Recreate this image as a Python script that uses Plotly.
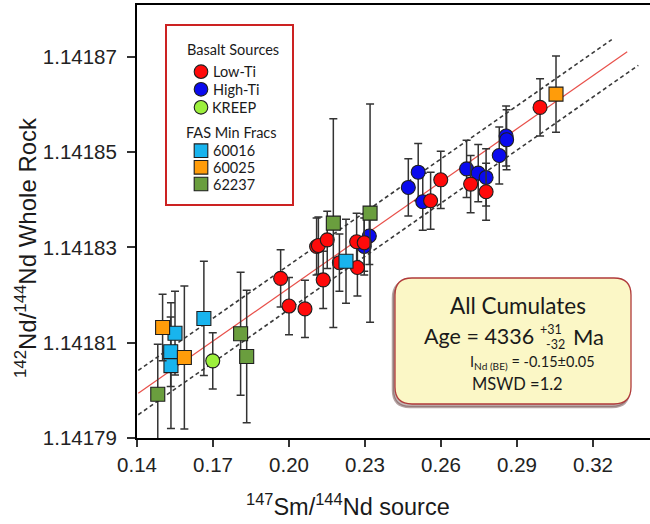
import plotly.graph_objects as go

# ---------------- data ----------------
lowti_x = [0.1967, 0.2000, 0.2063, 0.2109, 0.2116, 0.2151, 0.2135, 0.2199,
           0.2270, 0.2267, 0.2297, 0.2559, 0.2599, 0.2717, 0.2778, 0.2991]
lowti_y = [1.1418235, 1.1418177, 1.1418171, 1.1418302, 1.1418304, 1.1418316,
           1.1418232, 1.1418268, 1.1418258, 1.1418312, 1.1418310, 1.1418398,
           1.1418442, 1.1418433, 1.1418417, 1.1418594]
lowti_err = [6.0e-6] * 16

highti_x = [0.2297, 0.2317, 0.2471, 0.2510, 0.2528, 0.2701, 0.2747, 0.2778,
            0.2830, 0.2857, 0.2859]
highti_y = [1.1418302, 1.1418324, 1.1418426, 1.1418458, 1.1418396, 1.1418465,
            1.1418456, 1.1418447, 1.1418493, 1.1418534, 1.1418526]
highti_err = [6.0e-6, 6.0e-6, 6.0e-6, 6.0e-6, 6.0e-6, 6.0e-6, 6.0e-6, 6.0e-6,
              6.0e-6, 6.3e-6, 6.3e-6]

kreep_x = [0.1699]
kreep_y = [1.1418062]
kreep_err = [5.9e-6]

s60016_x = [0.1550, 0.1533, 0.1534, 0.1664, 0.2225]
s60016_y = [1.1418120, 1.1418081, 1.1418052, 1.1418151, 1.1418271]
s60016_err = [8.8e-6, 7.3e-6, 1.32e-5, 1.2e-5, 8.8e-6]

s60025_x = [0.1501, 0.1587, 0.3054]
s60025_y = [1.1418132, 1.1418069, 1.1418622]
s60025_err = [7.0e-6, 1.5e-5, 8.0e-6]

s62237_x = [0.1482, 0.1809, 0.1833, 0.2175, 0.2320]
s62237_y = [1.1417992, 1.1418119, 1.1418071, 1.1418351, 1.1418372]
s62237_err = [1.05e-5, 1.29e-5, 1.39e-5, 2.19e-5, 2.29e-5]

# isochron fit and its envelope
fit_slope = 3.716e-4
fit_ref_x = 0.14
fit_ref_y = 1.1417992
fit_x = [0.1405, 0.3335]
env_upper_offset = 4.8e-6
env_lower_offset = -4.5e-6
env_upper_x = [0.1405, 0.3274]
env_lower_x = [0.1405, 0.3379]

x_tickvals = [0.14, 0.17, 0.20, 0.23, 0.26, 0.29, 0.32]
x_ticktext = ["0.14", "0.17", "0.20", "0.23", "0.26", "0.29", "0.32"]
y_tickvals = [1.14179, 1.14181, 1.14183, 1.14185, 1.14187]
y_ticktext = ["1.14179", "1.14181", "1.14183", "1.14185", "1.14187"]

legend_groups = ["Basalt Sources", "FAS Min Fracs"]
legend_names = ["Low-Ti", "High-Ti", "KREEP", "60016", "60025", "62237"]

# ---------------- layout geometry ----------------
W, H = 650, 524
ML, MR, MT, MB = 137, 0, 5, 86
PW, PH = W - ML - MR, H - MT - MB

COL = {"Low-Ti": "#ff0a0a", "High-Ti": "#0a0aee", "KREEP": "#9cf03c",
       "60016": "#18b4ee", "60025": "#ff9c0a", "62237": "#6a9e3e"}
OUTLINE = "#1e1e1e"


def pp(px, py):
    """pixel -> paper coordinates"""
    return (px - ML) / PW, (H - MB - py) / PH


def fit_line(xs, off):
    return [fit_ref_y + fit_slope * (x - fit_ref_x) + off for x in xs]


def rounded_path(x0, y0, x1, y1, r):
    def P(x, y):
        a, b = pp(x, y)
        return f"{a:.5f},{b:.5f}"
    pts = ["M" + P(x0 + r, y0), "L" + P(x1 - r, y0),
           "Q" + P(x1, y0) + " " + P(x1, y0 + r), "L" + P(x1, y1 - r),
           "Q" + P(x1, y1) + " " + P(x1 - r, y1), "L" + P(x0 + r, y1),
           "Q" + P(x0, y1) + " " + P(x0, y1 - r), "L" + P(x0, y0 + r),
           "Q" + P(x0, y0) + " " + P(x0 + r, y0)]
    return " ".join(pts) + " Z"


fig = go.Figure()

# fit lines
dash = dict(color="#3a3a3a", width=1.6, dash="4px,3px")
fig.add_trace(go.Scatter(x=env_upper_x, y=fit_line(env_upper_x, env_upper_offset), mode="lines",
                         line=dash, showlegend=False, hoverinfo="skip"))
fig.add_trace(go.Scatter(x=env_lower_x, y=fit_line(env_lower_x, env_lower_offset), mode="lines",
                         line=dash, showlegend=False, hoverinfo="skip"))
fig.add_trace(go.Scatter(x=fit_x, y=fit_line(fit_x, 0.0), mode="lines",
                         line=dict(color="#e8504a", width=1.2),
                         showlegend=False, hoverinfo="skip"))

ebar = dict(color="#333333", thickness=1.5, width=4)


def series(name, xs, ys, errs, symbol):
    return go.Scatter(
        x=xs, y=ys, mode="markers", name=name, showlegend=False,
        marker=dict(color=COL[name], size=14, symbol=symbol, line=dict(color=OUTLINE, width=1.1)),
        error_y=dict(type="data", array=errs, visible=True, **ebar),
    )


fig.add_trace(series("High-Ti", highti_x, highti_y, highti_err, "circle"))
fig.add_trace(series("Low-Ti", lowti_x, lowti_y, lowti_err, "circle"))
fig.add_trace(series("KREEP", kreep_x, kreep_y, kreep_err, "circle"))
fig.add_trace(series("60016", s60016_x, s60016_y, s60016_err, "square"))
fig.add_trace(series("60025", s60025_x, s60025_y, s60025_err, "square"))
fig.add_trace(series("62237", s62237_x, s62237_y, s62237_err, "square"))

tickfont = dict(family="Liberation Sans", size=20.5, color="#222222")

fig.update_layout(
    width=W, height=H,
    margin=dict(l=ML, r=MR, t=MT, b=MB),
    plot_bgcolor="white", paper_bgcolor="white", showlegend=False,
    xaxis=dict(range=[0.14, 0.3425], tickvals=x_tickvals, ticktext=x_ticktext,
               ticks="outside", ticklen=7, tickwidth=1.5, tickcolor="#333333",
               showline=True, linecolor="black", linewidth=2, mirror=True,
               showgrid=False, zeroline=False, tickfont=tickfont),
    yaxis=dict(range=[1.14179, 1.1418809], tickvals=y_tickvals, ticktext=y_ticktext,
               ticks="outside", ticklen=8, tickwidth=1.5, tickcolor="#333333",
               showline=True, linecolor="black", linewidth=2,
               showgrid=False, zeroline=False, tickfont=tickfont, ticklabelstandoff=6),
)

shapes = []
ann = []


def A(text, px, py, size, xanchor="center", family="Lato", **kw):
    x, y = pp(px, py)
    ann.append(dict(text=text, x=x, y=y, xref="paper", yref="paper", showarrow=False,
                    xanchor=xanchor, yanchor="middle", borderpad=0,
                    font=dict(family=family, size=size, color="#1a1a1a"), **kw))


# ---- legend frame with swatches ----
lx0, ly1 = pp(166, 25)
lx1, ly0 = pp(293, 205)
shapes.append(dict(type="rect", xref="paper", yref="paper", x0=lx0, x1=lx1, y0=ly0, y1=ly1,
                   line=dict(color="#cc2222", width=2), fillcolor="white", layer="above"))
A(legend_groups[0], 186, 50, 14.5, xanchor="left")
A(legend_groups[1], 185, 132.5, 14.5, xanchor="left")
rows_y = [71.7, 89.3, 107.3, 150.7, 167.3, 184]
for name, ry in zip(legend_names, rows_y):
    cx, r = 201, 6.8
    a0, b1 = pp(cx - r, ry - r)
    a1, b0 = pp(cx + r, ry + r)
    kind = "circle" if name in ("Low-Ti", "High-Ti", "KREEP") else "rect"
    shapes.append(dict(type=kind, xref="paper", yref="paper", x0=a0, x1=a1, y0=b0, y1=b1,
                       fillcolor=COL[name], line=dict(color=OUTLINE, width=1.1), layer="above"))
    A(name, 210.5 if name == "KREEP" else 211.5, ry, 14.5, xanchor="left")

# ---- result box with shadow ----
shapes.append(dict(type="path", xref="paper", yref="paper",
                   path=rounded_path(393, 281, 629, 407, 17),
                   line=dict(color="rgba(90,50,50,0.45)", width=2.5),
                   fillcolor="rgba(90,50,50,0.35)", layer="above"))
shapes.append(dict(type="path", xref="paper", yref="paper",
                   path=rounded_path(395, 278, 631, 404, 17),
                   line=dict(color="#b03a3a", width=1.3),
                   fillcolor="#fbf7c6", layer="above"))

A("All Cumulates", 517.5, 305, 22.5)
A("Age = 4336", 535, 336, 21.5, xanchor="right")
A("+31", 538.5, 329, 12.5, xanchor="left")
A("-32", 545, 344, 12.5, xanchor="left")
A("Ma", 572, 336, 22, xanchor="left")
A("I<sub>Nd (BE)</sub> = -0.15±0.05", 469, 362, 14.5, xanchor="left")
A("MSWD =1.2", 471, 384, 16.5, xanchor="left")

# axis titles
A("<sup>142</sup>Nd/<sup>144</sup>Nd Whole Rock", 26, 248, 24, family="Liberation Sans", textangle=-90)
A("<sup>147</sup>Sm/<sup>144</sup>Nd source", 347.5, 505, 23.5, family="Liberation Sans")

fig.update_layout(shapes=shapes, annotations=ann)

fig.write_html("out.html", config={"displayModeBar": False},
               post_script="document.body.style.margin='0';document.body.style.padding='0';")
